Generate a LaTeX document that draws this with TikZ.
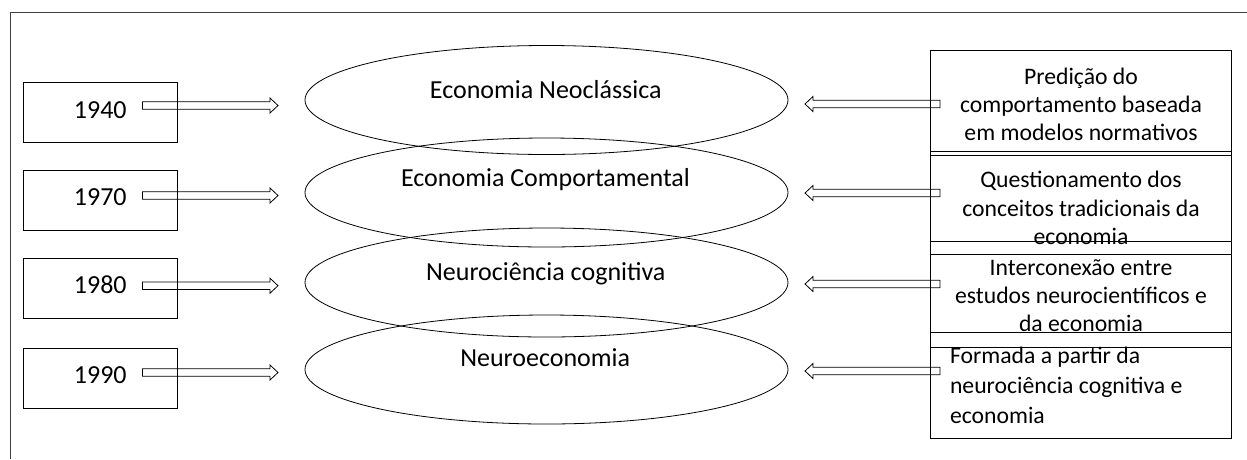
\documentclass[tikz,border=0pt]{standalone}
\usepackage{fontspec}
\setmainfont{Carlito}
\usetikzlibrary{shapes.geometric,calc}
\newcommand\blockarr[3]{% #1 tail, #2 tip, #3 direction (+1 right, -1 left)
  \draw[barrow] ($(#1)+(0,-3.7)$) -- ($(#2)+({-8*#3},-3.7)$) -- ($(#2)+({-8*#3},-7.5)$) -- (#2)
    -- ($(#2)+({-8*#3},7.5)$) -- ($(#2)+({-8*#3},3.7)$) -- ($(#1)+(0,3.7)$) -- cycle;}
\begin{document}
\begin{tikzpicture}[x=1pt,y=-1pt,
  every node/.style={inner sep=0pt, outer sep=0pt},
  frameline/.style={draw=black!75, line width=1pt},
  yearbox/.style={draw, rectangle, line width=0.9pt, minimum width=154pt, minimum height=60pt},
  era/.style={draw, ellipse, line width=0.8pt, minimum width=483pt, minimum height=109pt},
  infobox/.style={draw, rectangle, line width=0.9pt, minimum width=301.7pt},
  big/.style={font=\fontsize{26}{31}\selectfont},
  small/.style={font=\fontsize{23.7}{28.3}\selectfont, align=center},
  barrow/.style={draw, line width=0.8pt, line join=miter}]
\useasboundingbox (0,0) rectangle (1247,459);
\draw[frameline] (10,459) -- (10,12) -- (1247,12);

% year boxes
\node[yearbox] (b1) at (100.5,112) {};
\node[yearbox] (b2) at (100.5,200) {};
\node[yearbox] (b3) at (100.5,288) {};
\node[yearbox] (b4) at (100.5,378) {};
\node[big, anchor=base] (t1) at (100.3,118.3) {1940};
\node[big, anchor=base] (t2) at (100.3,205) {1970};
\node[big, anchor=base] (t3) at (100.3,293.3) {1980};
\node[big, anchor=base] (t4) at (100.3,383.3) {1990};

% ellipses
\node[era] (e1) at (546.5,100) {};
\node[era] (e2) at (546.5,192.5) {};
\node[era] (e3) at (546.5,282.5) {};
\node[era] (e4) at (546.5,369.5) {};
\node[big, anchor=base] (et1) at (545.8,98.3) {Economia Neoclássica};
\node[big, anchor=base] (et2) at (545.5,186.5) {Economia Comportamental};
\node[big, anchor=base] (et3) at (545.8,280) {Neurociência cognitiva};
\node[big, anchor=base] (et4) at (545.2,366.7) {Neuroeconomia};

% info boxes
\node[infobox, minimum height=105.7pt] (i1) at (1080.9,102.85) {};
\node[infobox, minimum height=102.6pt] (i2) at (1080.9,203) {};
\node[infobox, minimum height=105.6pt] (i3) at (1080.9,294.5) {};
\node[infobox, minimum height=105.3pt] (i4) at (1080.9,385.35) {};
% anchor=base is the baseline of the last line
\node[small, anchor=base] (it1) at (1081,140.8) {Predição do\\comportamento baseada\\em modelos normativos};
\node[small, anchor=base] (it2) at (1081,244.4) {Questionamento dos\\conceitos tradicionais da\\economia};
\node[small, anchor=base] (it3) at (1081,331.6) {Interconexão entre\\estudos neurocientíficos e\\da economia};
\node[font=\fontsize{23.7}{30}\selectfont, align=left, anchor=base west] (it4) at (950,423.3) {Formada a partir da\\neurociência cognitiva e\\economia};

% arrow end points
\coordinate (l1s) at (142.5,105.5); \coordinate (l1e) at (278,105.5);
\coordinate (l2s) at (142.5,195.5); \coordinate (l2e) at (278,195.5);
\coordinate (l3s) at (142.5,285.7); \coordinate (l3e) at (278,285.7);
\coordinate (l4s) at (142.5,372.5); \coordinate (l4e) at (278,372.5);
\coordinate (r1s) at (940,104);   \coordinate (r1e) at (805,104);
\coordinate (r2s) at (940,193);   \coordinate (r2e) at (805,193);
\coordinate (r3s) at (940,284);   \coordinate (r3e) at (805,284);
\coordinate (r4s) at (940,371);   \coordinate (r4e) at (805,371);

\blockarr{l1s}{l1e}{1}
\blockarr{l2s}{l2e}{1}
\blockarr{l3s}{l3e}{1}
\blockarr{l4s}{l4e}{1}
\blockarr{r1s}{r1e}{-1}
\blockarr{r2s}{r2e}{-1}
\blockarr{r3s}{r3e}{-1}
\blockarr{r4s}{r4e}{-1}
\end{tikzpicture}
\end{document}
